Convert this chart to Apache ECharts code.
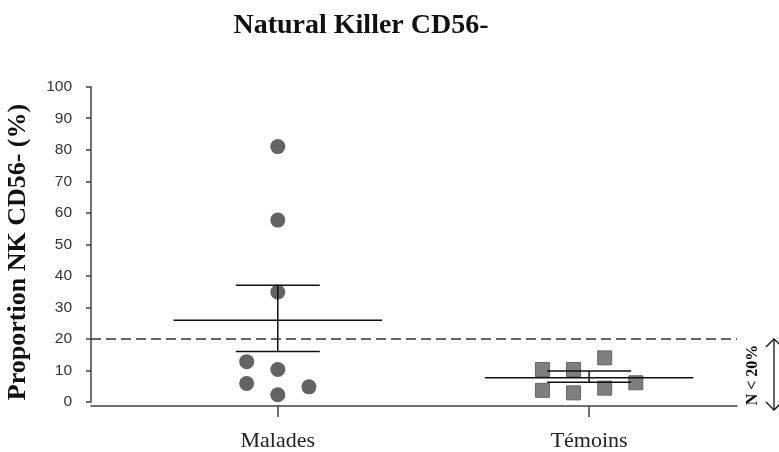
<!DOCTYPE html>
<html>
<head>
<meta charset="utf-8">
<script src="https://cdn.jsdelivr.net/npm/echarts@6/dist/echarts.min.js"></script>
<style>html,body{margin:0;padding:0;background:#fff}#c{width:779px;height:452px}</style>
</head>
<body>
<div id="c"></div>
<script>
// ---- data ----
var categories = ['Malades', 'Témoins'];
var categoryX = [1, 2];
var yTicks = [0, 10, 20, 30, 40, 50, 60, 70, 80, 90, 100];
var maladesPoints = [[1, 81.0], [1, 57.7], [1, 34.9], [0.9, 12.8], [1, 10.3], [0.9, 5.9], [1.1, 4.8], [1, 2.3]];
var temoinsPoints = [[1.85, 10.3], [1.95, 10.3], [2.05, 14.0], [1.85, 3.7], [1.95, 2.9], [2.05, 4.4], [2.15, 6.1]];
var means = [25.9, 7.7];
var lowerErr = [16.0, 6.3];
var upperErr = [37.0, 9.8];
var threshold = 20;
var titleText = 'Natural Killer CD56-';
var yTitle = 'Proportion NK CD56- (%)';
var thresholdLabel = 'N < 20%';

var errData = categoryX.map(function (x, i) { return [x, means[i], lowerErr[i], upperErr[i]]; });

var chart = echarts.init(document.getElementById('c'), null, { renderer: 'canvas' });
var serif = '"Liberation Serif", "Times New Roman", serif';
var axisColor = '#404040';

var option = {
  animation: false,
  backgroundColor: '#fff',
  grid: { left: 91, right: 42, top: 86.7, bottom: 48.7, containLabel: false },
  xAxis: {
    type: 'value', min: 0.4, max: 2.475, offset: 4,
    splitLine: { show: false },
    axisLine: { show: true, onZero: false, lineStyle: { color: axisColor, width: 1.5 } },
    axisTick: { show: true, customValues: categoryX, length: 11, lineStyle: { color: axisColor, width: 1.5 } },
    axisLabel: {
      customValues: categoryX, margin: 24,
      formatter: function (v) { var i = categoryX.indexOf(v); return i >= 0 ? categories[i] : ''; },
      fontFamily: serif, fontSize: 22, color: '#222'
    }
  },
  yAxis: {
    type: 'value', min: 0, max: 100,
    splitLine: { show: false },
    axisLine: { show: true, lineStyle: { color: axisColor, width: 1.5 } },
    axisTick: { show: true, customValues: yTicks, length: 5, lineStyle: { color: axisColor, width: 1.5 } },
    axisLabel: { customValues: yTicks, margin: 19, fontFamily: '"Liberation Sans", Arial, sans-serif', fontSize: 15.5, color: '#333' }
  },
  series: [
    {
      type: 'scatter', data: maladesPoints, symbol: 'circle', symbolSize: 15,
      itemStyle: { color: '#636363', opacity: 1 }, z: 3,
      markLine: {
        silent: true, symbol: 'none', label: { show: false },
        lineStyle: { type: [10, 5], color: '#333', width: 1.6 },
        data: [{ yAxis: threshold }]
      }
    },
    {
      type: 'scatter', data: temoinsPoints, symbol: 'rect', symbolSize: 14,
      itemStyle: { color: '#7f7f7f', borderColor: '#666', borderWidth: 1, opacity: 1 }, z: 3
    },
    {
      type: 'custom', data: errData, z: 4,
      renderItem: function (params, api) {
        var x = api.value(0), m = api.value(1), lo = api.value(2), hi = api.value(3);
        var hw = 0.335, cw = 0.135;
        function seg(x1, y1, x2, y2) {
          var a = api.coord([x1, y1]), b = api.coord([x2, y2]);
          return { type: 'line', shape: { x1: a[0], y1: a[1], x2: b[0], y2: b[1] }, style: { stroke: '#111', lineWidth: 1.5 } };
        }
        return { type: 'group', children: [
          seg(x - hw, m, x + hw, m),
          seg(x, lo, x, hi),
          seg(x - cw, lo, x + cw, lo),
          seg(x - cw, hi, x + cw, hi)
        ] };
      }
    }
  ]
};
chart.setOption(option);

var yTop = chart.convertToPixel({ yAxisIndex: 0 }, threshold);
var yBot = chart.convertToPixel({ yAxisIndex: 0 }, 0) + 8;
var ax = 774;
chart.setOption({
  graphic: [
    { type: 'text', x: 361, y: 26, style: { text: titleText, font: 'bold 28px ' + serif, fill: '#111', align: 'center', verticalAlign: 'middle' } },
    { type: 'text', x: 18, y: 252, rotation: Math.PI / 2, style: { text: yTitle, font: 'bold 26px ' + serif, fill: '#111', align: 'center', verticalAlign: 'middle' } },
    { type: 'text', x: 753, y: 375, rotation: Math.PI / 2, style: { text: thresholdLabel, font: 'bold 16px ' + serif, fill: '#111', align: 'center', verticalAlign: 'middle' } },
    { type: 'line', shape: { x1: ax, y1: yTop, x2: ax, y2: yBot }, style: { stroke: '#111', lineWidth: 1.3 } },
    { type: 'polyline', shape: { points: [[ax - 8, yTop + 8], [ax, yTop], [ax + 8, yTop + 8]] }, style: { stroke: '#111', lineWidth: 1.3, fill: null } },
    { type: 'polyline', shape: { points: [[ax - 8, yBot - 8], [ax, yBot], [ax + 8, yBot - 8]] }, style: { stroke: '#111', lineWidth: 1.3, fill: null } }
  ]
});
</script>
</body>
</html>
